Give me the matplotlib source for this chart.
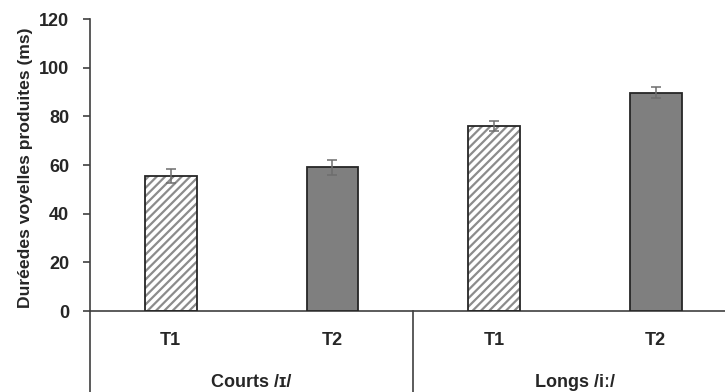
import numpy as np
import matplotlib
matplotlib.use('Agg')
import matplotlib.pyplot as plt
import matplotlib.transforms as mtransforms

plt.rcParams['font.family'] = ['Liberation Sans', 'DejaVu Sans']
plt.rcParams['hatch.linewidth'] = 1.6

# data
groups = ['Courts /ɪ/', 'Longs /iː/']
tests = ['T1', 'T2', 'T1', 'T2']
means = [55.6, 59.0, 76.0, 89.7]
errs = [2.9, 3.1, 2.0, 2.3]
hatched = [True, False, True, False]

fig = plt.figure(figsize=(7.25, 3.92), dpi=100)
ax = fig.add_axes([90 / 725, 81 / 392, 646.5 / 725, 292 / 392])

x = np.arange(len(means))
w = 0.32
for xi, m, h in zip(x, means, hatched):
    if h:
        ax.bar(xi, m, w, color='white', edgecolor='#8c8c8c', hatch='////', linewidth=0, zorder=2)
        ax.bar(xi, m, w, color='none', edgecolor='#262626', linewidth=1.3, zorder=3)
    else:
        ax.bar(xi, m, w, color='#7f7f7f', edgecolor='#262626', linewidth=1.3, zorder=3)
ax.errorbar(x, means, yerr=errs, fmt='none', ecolor='#6e6e6e', elinewidth=1.1,
            capsize=3.5, capthick=1.1, zorder=4)

ax.set_xlim(-0.5, 3.5)
ax.set_ylim(0, 120)
ax.set_yticks(np.arange(0, 121, 20))
ax.tick_params(axis='y', direction='out', length=5, width=1.2, color='#404040',
               labelsize=13, labelcolor='#262626', pad=10)
for lab in ax.get_yticklabels():
    lab.set_fontweight('bold')
ax.set_xticks([])

for s in ['top', 'right']:
    ax.spines[s].set_visible(False)
ax.spines['left'].set_color('#404040')
ax.spines['bottom'].set_color('#404040')
ax.spines['left'].set_linewidth(1.2)
ax.spines['bottom'].set_linewidth(1.2)

ax.set_ylabel('Duréedes voyelles produites (ms)', fontsize=12.6, fontweight='bold',
              color='#262626')
ax.yaxis.set_label_coords(-0.088, 0.49)

trans = mtransforms.blended_transform_factory(ax.transData, ax.transAxes)
for xi, t in zip(x, tests):
    ax.text(xi, -0.1, t, transform=trans, ha='center', va='center',
            fontsize=13, fontweight='bold', color='#262626')
for gi, g in enumerate(groups):
    ax.text(2 * gi + 0.5, -0.245, g, transform=trans, ha='center', va='center',
            fontsize=13, fontweight='bold', color='#262626')

# category separators below the axis
for xs in [-0.5, 1.5]:
    ax.plot([xs, xs], [0, -0.3], transform=trans, color='#404040', lw=1.2, clip_on=False)

fig.savefig('out.png', dpi=100)
